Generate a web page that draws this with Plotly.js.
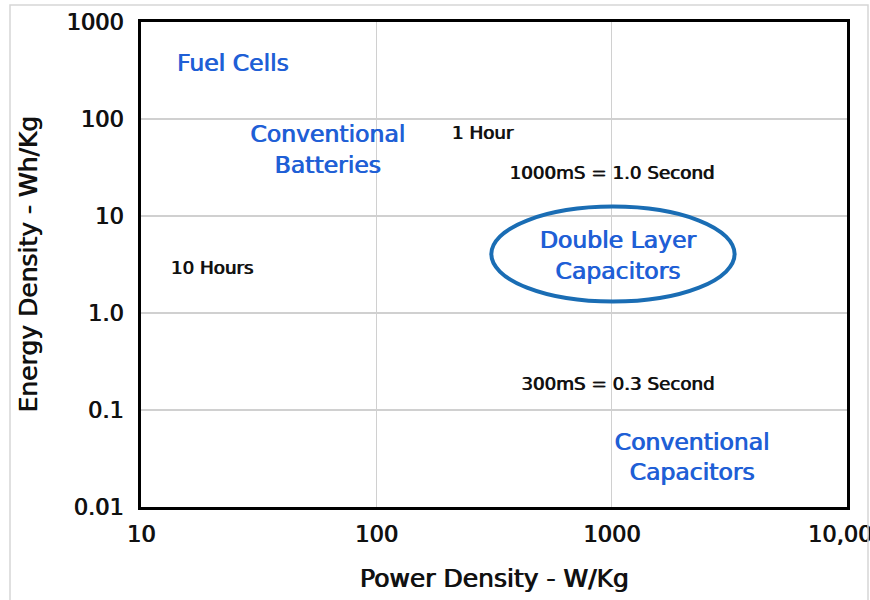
<!DOCTYPE html>
<html>
<head>
<meta charset="utf-8">
<script src="https://cdn.plot.ly/plotly-3.0.1.min.js"></script>
<style>html,body{margin:0;padding:0;background:#fff;}#chart{width:870px;height:600px;}</style>
</head>
<body>
<div id="chart"></div>
<script>
// Region labels (blue)
const regionLabels = ["Fuel Cells", "Conventional<br>Batteries", "Double Layer<br>Capacitors", "Conventional<br>Capacitors"];
const regionPower = [24.5, 62, 1060, 2190];     // W/Kg
const regionEnergy = [360, 46, 3.7, 0.031];     // Wh/Kg

// Time labels (black)
const timeLabels = ["1 Hour", "1000mS = 1.0 Second", "10 Hours", "300mS = 0.3 Second"];
const timePower = [282, 1000, 20, 1060];
const timeEnergy = [69, 27, 2.8, 0.18];

// Highlight ellipse around Double Layer Capacitors (power / energy bounds)
const ellipsePower = [308, 3330];
const ellipseEnergy = [1.31, 12.5];

// Axis ticks
const xTickVals = [10, 100, 1000, 10000];
const xTickText = ["10", "100", "1000", "10,000"];
const yTickVals = [0.01, 0.1, 1, 10, 100, 1000];
const yTickText = ["0.01", "0.1", "1.0", "10", "100", "1000"];

const FONT = "DejaVu Sans, sans-serif";
const BLUE = "#1f5fd6";
const INK = "#111";
const thick = c => "0.9px 0 0 " + c;

const traces = [
  {
    type: "scatter", mode: "text",
    x: regionPower, y: regionEnergy, text: regionLabels,
    textfont: {family: FONT, size: 23.5, color: BLUE, shadow: thick(BLUE)},
    hoverinfo: "skip", showlegend: false, cliponaxis: false
  },
  {
    type: "scatter", mode: "text",
    x: timePower, y: timeEnergy, text: timeLabels,
    textfont: {family: FONT, size: 18.3, color: INK, shadow: thick(INK)},
    hoverinfo: "skip", showlegend: false, cliponaxis: false
  }
];

const layout = {
  width: 870, height: 600,
  margin: {l: 141, r: 23, t: 22, b: 93},
  paper_bgcolor: "#fff", plot_bgcolor: "#fff",
  font: {family: FONT, color: INK},
  xaxis: {
    type: "log", range: [Math.log10(10), Math.log10(10000)],
    tickvals: xTickVals, ticktext: xTickText,
    tickfont: {family: FONT, size: 22.5, color: INK, shadow: thick(INK)},
    ticklabelstandoff: 5, ticklabeloverflow: "allow",
    showgrid: true, gridcolor: "#d0d0d0", gridwidth: 1.5,
    showline: true, linecolor: "#000", linewidth: 3, mirror: true,
    zeroline: false, ticks: "",
    title: {text: "Power Density - W/Kg", font: {family: FONT, size: 25, color: INK, shadow: thick(INK)}, standoff: 24}
  },
  yaxis: {
    type: "log", range: [Math.log10(0.01), Math.log10(1000)],
    tickvals: yTickVals, ticktext: yTickText,
    tickfont: {family: FONT, size: 22.5, color: INK, shadow: thick(INK)},
    ticklabelstandoff: 10, ticklabeloverflow: "allow",
    showgrid: true, gridcolor: "#d0d0d0", gridwidth: 1.5,
    showline: true, linecolor: "#000", linewidth: 3, mirror: true,
    zeroline: false, ticks: "",
    title: {text: "Energy Density - Wh/Kg", font: {family: FONT, size: 25, color: INK, shadow: thick(INK)}, standoff: 22}
  },
  shapes: [
    {
      type: "circle", xref: "x", yref: "y",
      x0: ellipsePower[0], x1: ellipsePower[1],
      y0: ellipseEnergy[0], y1: ellipseEnergy[1],
      line: {color: "#1a6db4", width: 4}
    },
    {
      type: "rect", xref: "paper", yref: "paper",
      x0: (10 - 141) / 706, x1: (868 - 141) / 706,
      y0: (507 - 605) / 485, y1: (507 - 5) / 485,
      line: {color: "#d6d6d6", width: 1.5}
    }
  ]
};

Plotly.newPlot("chart", traces, layout, {displayModeBar: false, staticPlot: true});
</script>
</body>
</html>
